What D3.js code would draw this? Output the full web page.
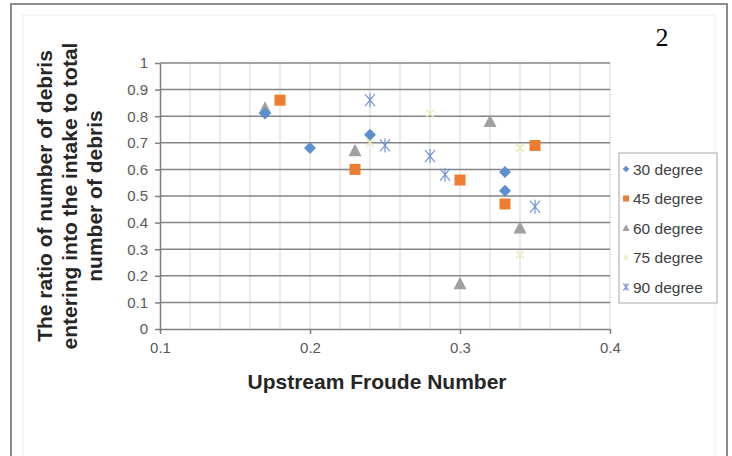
<!DOCTYPE html>
<html>
<head>
<meta charset="utf-8">
<script src="https://cdn.jsdelivr.net/npm/d3@7"></script>
<style>
  body { margin: 0; background: #fff; }
  svg { display: block; font-family: Arial, "Liberation Sans", sans-serif; }
  .grid-minor line { stroke: #d9d9d9; stroke-width: 1; }
  .grid-major line { stroke: #858585; stroke-width: 1.5; }
  .axis text { fill: #595959; font-size: 15px; }
  .axis path, .axis line { stroke: #7f7f7f; stroke-width: 1.5; }
  .title { font-weight: bold; font-size: 21px; fill: #262626; }
  .legend text { font-size: 15.5px; fill: #404040; }
</style>
</head>
<body>
<svg width="732" height="456"></svg>
<script>
// series names and values
const seriesNames = ["30 degree", "45 degree", "60 degree", "75 degree", "90 degree"]

const x30 = [0.17, 0.20, 0.24, 0.33, 0.33]
const y30 = [0.81, 0.68, 0.73, 0.59, 0.52]

const x45 = [0.18, 0.23, 0.30, 0.33, 0.35]
const y45 = [0.86, 0.60, 0.56, 0.47, 0.69]

const x60 = [0.17, 0.23, 0.32, 0.34, 0.30]
const y60 = [0.83, 0.67, 0.78, 0.38, 0.17]

const x75 = [0.18, 0.24, 0.28, 0.34, 0.34]
const y75 = [0.87, 0.70, 0.81, 0.68, 0.28]

const x90 = [0.24, 0.25, 0.28, 0.29, 0.35]
const y90 = [0.86, 0.69, 0.65, 0.58, 0.46]

const xTicks = [0.1, 0.2, 0.3, 0.4]
const yTicks = [0, 0.1, 0.2, 0.3, 0.4, 0.5, 0.6, 0.7, 0.8, 0.9, 1]

const svg = d3.select("svg")

// outer frame + faint inner chart area
svg.append("rect")
  .attr("x", 11).attr("y", 4).attr("width", 716).attr("height", 470)
  .attr("fill", "none").attr("stroke", "#8c8c8c").attr("stroke-width", 2)
svg.append("rect")
  .attr("x", 23).attr("y", 15).attr("width", 692).attr("height", 450)
  .attr("fill", "none").attr("stroke", "#ededed").attr("stroke-width", 1)

// the "2" in the corner
svg.append("text")
  .attr("x", 662).attr("y", 46)
  .attr("text-anchor", "middle")
  .style("font-family", "'Liberation Serif', 'Times New Roman', serif")
  .style("font-size", "26px")
  .text("2")

// scales
const scaleX = d3.scaleLinear().domain([0.1, 0.4]).range([160, 610])
const scaleY = d3.scaleLinear().domain([0, 1]).range([329, 63])

// minor vertical gridlines every 0.02
const minorX = d3.range(6, 21).map(d => d * 0.02)
svg.append("g").attr("class", "grid-minor")
  .selectAll("line").data(minorX).enter().append("line")
  .attr("x1", d => scaleX(d)).attr("x2", d => scaleX(d))
  .attr("y1", scaleY(0)).attr("y2", scaleY(1))

// major horizontal gridlines
svg.append("g").attr("class", "grid-major")
  .selectAll("line").data(yTicks.slice(1)).enter().append("line")
  .attr("x1", scaleX(0.1)).attr("x2", scaleX(0.4))
  .attr("y1", d => scaleY(d)).attr("y2", d => scaleY(d))

// axes
const axisX = d3.axisBottom(scaleX)
  .tickValues(xTicks).tickFormat(d3.format(".1f"))
  .tickSizeInner(5).tickSizeOuter(0).tickPadding(8)
svg.append("g").attr("class", "axis x-axis")
  .attr("transform", `translate(0,${scaleY(0)})`)
  .call(axisX)

const axisY = d3.axisLeft(scaleY)
  .tickValues(yTicks).tickFormat(d => d === 0 || d === 1 ? d : d3.format(".1f")(d))
  .tickSizeInner(5).tickSizeOuter(0).tickPadding(7)
svg.append("g").attr("class", "axis y-axis")
  .attr("transform", `translate(${scaleX(0.1)},0)`)
  .call(axisY)

// axis titles
svg.append("text").attr("class", "title")
  .attr("x", 377).attr("y", 389)
  .attr("text-anchor", "middle")
  .text("Upstream Froude Number")

const yTitle = ["The ratio of number of debris", "entering into the intake to total", "number of debris"]
svg.append("g")
  .attr("transform", "translate(52,196) rotate(-90)")
  .selectAll("text").data(yTitle).enter().append("text")
  .attr("class", "title")
  .attr("text-anchor", "middle")
  .attr("x", 0).attr("y", (d, i) => i * 25)
  .text(d => d)

// marker shapes (drawn around 0,0)
const shapes = [
  { d: "M0,-6L6,0L0,6L-6,0Z", fill: "#5b8fd0", stroke: "none", w: 0 },
  { d: "M-5.5,-5.5H5.5V5.5H-5.5Z", fill: "#ed7d31", stroke: "none", w: 0 },
  { d: "M0,-7L6.5,5.5H-6.5Z", fill: "#a0a0a0", stroke: "none", w: 0 },
  { d: "M-4,-4L4,4M-4,4L4,-4", fill: "none", stroke: "#eeeab8", w: 1.5 },
  { d: "M-5,-6L5,6M-5,6L5,-6M0,-7V7", fill: "none", stroke: "#7393d6", w: 1.2 }
]

const allX = [x30, x45, x60, x75, x90]
const allY = [y30, y45, y60, y75, y90]

const plotOrder = [3, 4, 2, 0, 1]
plotOrder.forEach(s => {
  const pts = allX[s].map((x, i) => ({ x: x, y: allY[s][i] }))
  svg.append("g").attr("class", "series")
    .selectAll("path").data(pts).enter().append("path")
    .attr("transform", d => `translate(${scaleX(d.x)},${scaleY(d.y)})`)
    .attr("d", shapes[s].d)
    .attr("fill", shapes[s].fill)
    .attr("stroke", shapes[s].stroke)
    .attr("stroke-width", shapes[s].w)
})

// legend
const legend = svg.append("g").attr("class", "legend")
legend.append("rect")
  .attr("x", 619).attr("y", 153).attr("width", 98).attr("height", 150)
  .attr("fill", "#fff").attr("stroke", "#a6a6a6").attr("stroke-width", 1)

const items = legend.selectAll("g.item").data(seriesNames).enter().append("g")
  .attr("class", "item")
  .attr("transform", (d, i) => `translate(626,${169 + i * 29.5})`)

items.append("path")
  .attr("transform", "scale(0.55)")
  .attr("d", (d, i) => shapes[i].d)
  .attr("fill", (d, i) => shapes[i].fill)
  .attr("stroke", (d, i) => shapes[i].stroke)
  .attr("stroke-width", (d, i) => shapes[i].w * 1.6)

items.append("text")
  .attr("x", 7).attr("y", 0).attr("dy", "0.36em")
  .text(d => d)
</script>
</body>
</html>
